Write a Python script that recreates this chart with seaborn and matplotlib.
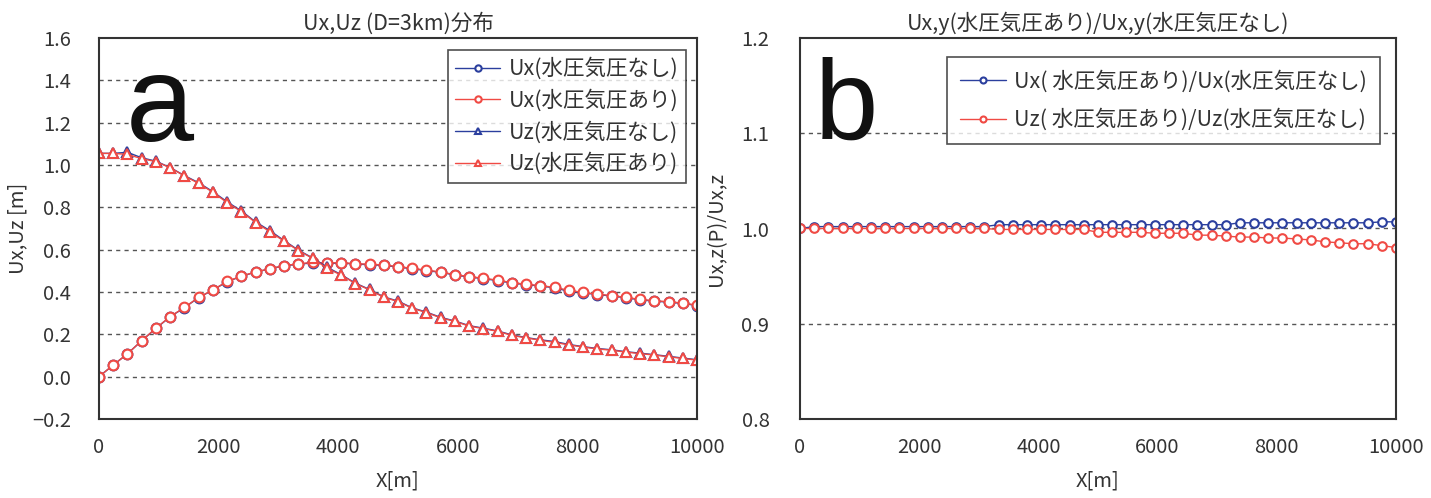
import numpy as np
import pandas as pd
import matplotlib
matplotlib.use("Agg")
import matplotlib.pyplot as plt
import seaborn as sns

sns.set_theme(style="white")
plt.rcParams['font.family'] = ['Noto Sans CJK JP', 'DejaVu Sans']

# ---- data ----
x_m = [0, 238, 476, 714, 952, 1190, 1429, 1667, 1905, 2143, 2381, 2619, 2857, 3095,
       3333, 3571, 3810, 4048, 4286, 4524, 4762, 5000, 5238, 5476, 5714, 5952, 6190,
       6429, 6667, 6905, 7143, 7381, 7619, 7857, 8095, 8333, 8571, 8810, 9048, 9286,
       9524, 9762, 10000]

ux_ari = [0.000, 0.055, 0.108, 0.170, 0.229, 0.284, 0.327, 0.375, 0.410, 0.450,
          0.475, 0.495, 0.510, 0.525, 0.533, 0.540, 0.537, 0.539, 0.534, 0.531,
          0.528, 0.520, 0.512, 0.503, 0.495, 0.482, 0.473, 0.465, 0.456, 0.444,
          0.437, 0.430, 0.422, 0.408, 0.398, 0.390, 0.383, 0.375, 0.365, 0.359,
          0.354, 0.348, 0.338]
ux_nashi = [0.000, 0.055, 0.108, 0.170, 0.228, 0.283, 0.326, 0.374, 0.409, 0.449,
            0.474, 0.494, 0.509, 0.524, 0.531, 0.538, 0.535, 0.537, 0.532, 0.529,
            0.526, 0.518, 0.510, 0.501, 0.493, 0.480, 0.471, 0.463, 0.454, 0.442,
            0.435, 0.428, 0.420, 0.403, 0.396, 0.388, 0.381, 0.373, 0.363, 0.357,
            0.352, 0.346, 0.336]
uz_ari = [1.055, 1.055, 1.050, 1.030, 1.016, 0.987, 0.948, 0.913, 0.871, 0.822,
          0.780, 0.728, 0.685, 0.640, 0.596, 0.559, 0.513, 0.480, 0.440, 0.410,
          0.375, 0.355, 0.323, 0.303, 0.278, 0.261, 0.239, 0.227, 0.214, 0.195,
          0.183, 0.172, 0.162, 0.150, 0.140, 0.131, 0.125, 0.116, 0.109, 0.102,
          0.094, 0.086, 0.078]
uz_nashi = [1.055, 1.055, 1.060, 1.034, 1.018, 0.988, 0.950, 0.916, 0.874, 0.826,
            0.783, 0.731, 0.690, 0.643, 0.598, 0.561, 0.518, 0.482, 0.442, 0.412,
            0.377, 0.357, 0.325, 0.305, 0.280, 0.263, 0.241, 0.229, 0.216, 0.197,
            0.185, 0.174, 0.166, 0.152, 0.142, 0.133, 0.127, 0.118, 0.111, 0.104,
            0.096, 0.088, 0.080]

ratio_ux = [1.000, 1.002, 1.002, 1.002, 1.002, 1.002, 1.002, 1.002, 1.002, 1.002,
            1.002, 1.002, 1.002, 1.002, 1.004, 1.004, 1.004, 1.004, 1.004, 1.004,
            1.004, 1.004, 1.004, 1.004, 1.004, 1.004, 1.004, 1.004, 1.004, 1.004,
            1.004, 1.006, 1.006, 1.006, 1.006, 1.006, 1.006, 1.006, 1.006, 1.006,
            1.006, 1.007, 1.007]
ratio_uz = [1.000, 1.000, 1.000, 1.000, 1.000, 1.000, 1.000, 1.000, 1.000, 1.000,
            1.000, 1.000, 1.000, 1.000, 0.999, 0.999, 0.999, 0.999, 0.999, 0.999,
            0.999, 0.996, 0.996, 0.996, 0.996, 0.995, 0.995, 0.995, 0.993, 0.993,
            0.992, 0.991, 0.991, 0.990, 0.990, 0.989, 0.988, 0.986, 0.985, 0.984,
            0.984, 0.982, 0.980]

xticks = [0, 2000, 4000, 6000, 8000, 10000]
yticks_a = [-0.2, 0.0, 0.2, 0.4, 0.6, 0.8, 1.0, 1.2, 1.4, 1.6]
yticks_b = [0.8, 0.9, 1.0, 1.1, 1.2]

title_a = "Ux,Uz (D=3km)分布"
title_b = "Ux,y(水圧気圧あり)/Ux,y(水圧気圧なし)"
labels_a = ["Ux(水圧気圧なし)", "Ux(水圧気圧あり)", "Uz(水圧気圧なし)", "Uz(水圧気圧あり)"]
labels_b = ["Ux( 水圧気圧あり)/Ux(水圧気圧なし)", "Uz( 水圧気圧あり)/Uz(水圧気圧なし)"]

BLUE = "#2b3f9e"
RED = "#f04a44"
TXT = "#333333"

fig = plt.figure(figsize=(14.31, 4.98), dpi=100)
ax_a = fig.add_axes([99 / 1431, 79 / 498, 598 / 1431, 381 / 498])
ax_b = fig.add_axes([800 / 1431, 79 / 498, 596 / 1431, 381 / 498])

def draw(ax, y, color, marker, label, ms=7):
    sns.lineplot(x=x_m, y=y, ax=ax, color=color, marker=marker, markersize=ms,
                 markerfacecolor="white", markeredgecolor=color, markeredgewidth=1.5,
                 linewidth=1.0, label=label, sort=False, estimator=None, legend=False)

draw(ax_a, ux_nashi, BLUE, "o", labels_a[0], 7)
draw(ax_a, ux_ari, RED, "o", labels_a[1], 7)
draw(ax_a, uz_nashi, BLUE, "^", labels_a[2], 7.5)
draw(ax_a, uz_ari, RED, "^", labels_a[3], 7.5)

draw(ax_b, ratio_ux, BLUE, "o", labels_b[0], 6.2)
draw(ax_b, ratio_uz, RED, "o", labels_b[1], 6.2)

def style(ax, yticks, title, ylabel, ypad):
    ax.set_xlim(0, 10000)
    ax.set_ylim(yticks[0], yticks[-1])
    ax.set_xticks(xticks)
    ax.set_yticks(yticks)
    ax.set_xticklabels([str(v) for v in xticks])
    ax.set_yticklabels([f"{v:.1f}".replace("-", "\u2212") for v in yticks])
    for v in yticks[1:-1]:
        ax.axhline(v, color="#555555", linestyle=(0, (3, 3)), linewidth=1.0, zorder=0)
    ax.tick_params(axis="x", direction="in", length=6, width=1.2, pad=13,
                   labelsize=14.5, colors="#333333", labelcolor=TXT)
    ax.tick_params(axis="y", direction="in", length=6, width=1.2, pad=ypad,
                   labelsize=14.5, colors="#333333", labelcolor=TXT)
    for s in ax.spines.values():
        s.set_color("#333333")
        s.set_linewidth(1.5)
    ax.set_title(title, fontsize=15.5, color=TXT, pad=6)
    ax.set_xlabel("X[m]", fontsize=14.5, color=TXT, labelpad=9)
    ax.set_ylabel(ylabel, fontsize=14.5, color=TXT)
    ax.grid(False)

style(ax_a, yticks_a, title_a, "Ux,Uz [m]", 20)
style(ax_b, yticks_b, title_b, "Ux,z(P)/Ux,z", 22)
ax_a.yaxis.set_label_coords(-0.118, 0.5)
ax_b.yaxis.set_label_coords(-0.123, 0.5)

leg_a = ax_a.legend(loc="upper right", bbox_to_anchor=(0.982, 0.968), fontsize=15.5,
                    frameon=True, fancybox=False, edgecolor="#222222",
                    handlelength=2.1, handletextpad=0.4, borderpad=0.35,
                    labelspacing=0.42, markerscale=0.65, borderaxespad=0)
leg_a.get_frame().set_linewidth(1.2)
for t in leg_a.get_texts():
    t.set_color(TXT)

leg_b = ax_b.legend(loc="upper right", bbox_to_anchor=(0.973, 0.95), fontsize=15.5,
                    frameon=True, fancybox=False, edgecolor="#222222",
                    handlelength=2.1, handletextpad=0.4, borderpad=0.6,
                    labelspacing=0.75, markerscale=0.7, borderaxespad=0)
leg_b.get_frame().set_linewidth(1.2)
for t in leg_b.get_texts():
    t.set_color(TXT)

ax_a.text(0.045, 0.73, "a", transform=ax_a.transAxes, fontsize=88,
          family="Liberation Sans", color="#111111")
ax_b.text(0.025, 0.735, "b", transform=ax_b.transAxes, fontsize=82,
          family="Liberation Sans", color="#111111")

fig.savefig("out.png", dpi=100, facecolor="white")
